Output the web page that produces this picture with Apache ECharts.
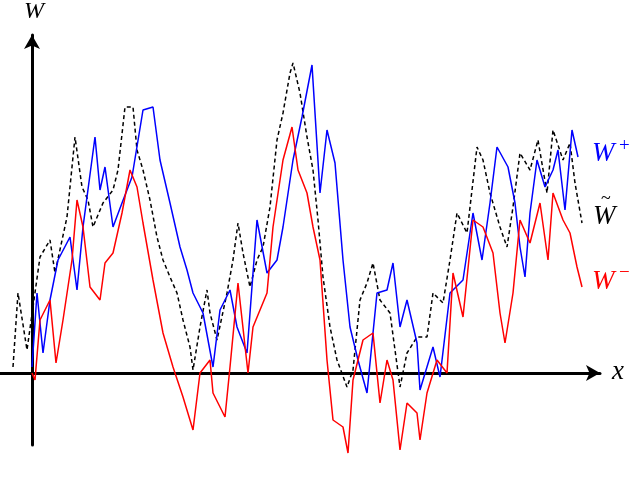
<!DOCTYPE html>
<html>
<head>
<meta charset="UTF-8">
<script src="https://cdn.jsdelivr.net/npm/echarts@6/dist/echarts.min.js"></script>
</head>
<body style="margin:0">
<div id="main" style="width:640px;height:488px"></div>
<script>
// values: horizontal position and height, in picture pixels
var wTildeX = [13,18,27,33,40,50,55,67,75,82,88,93,103,113,118,125,133,137,143,150,157,163,170,177,183,190,193,200,207,210,217,227,233,238,243,250,257,263,270,277,283,290,293,300,307,313,318,323,330,337,347,353,360,367,373,380,390,400,407,417,427,433,443,450,457,467,477,483,490,500,507,513,520,530,538,547,553,563,570,575,582];
var wTildeY = [367,293,350,307,257,240,273,217,137,187,200,227,203,190,170,107,107,150,170,200,237,260,277,293,320,347,370,327,290,313,340,293,260,223,253,287,260,247,207,140,113,73,63,93,137,170,220,277,327,360,387,370,300,283,263,300,313,387,353,337,337,293,303,260,213,233,147,160,193,227,247,207,153,170,140,193,130,160,143,183,223];

var wPlusX = [32,37,43,50,58,70,77,83,95,100,105,113,122,132,143,153,160,170,180,187,193,203,213,220,230,237,247,257,267,277,283,293,302,312,320,327,335,343,350,358,367,377,387,393,400,407,417,420,433,440,450,463,473,482,490,497,508,515,520,525,530,537,545,553,558,565,572,578];
var wPlusY = [367,293,353,300,260,237,290,227,137,190,167,227,203,177,110,107,160,203,247,270,293,313,367,310,290,327,353,220,273,260,227,160,117,65,193,130,163,260,327,360,393,293,290,263,327,300,343,390,347,377,293,280,213,260,203,147,167,203,247,277,213,160,187,170,150,210,130,157];

var wMinusX = [32,35,40,50,56,63,72,77,83,90,100,105,113,122,130,137,143,153,163,173,183,193,200,210,213,225,230,238,248,253,267,273,283,292,298,307,313,320,327,333,343,348,353,363,373,380,387,393,400,407,417,420,427,437,447,453,463,473,483,493,500,505,513,520,530,540,548,553,563,570,577,582];
var wMinusY = [373,380,320,300,363,320,260,200,227,287,300,263,253,213,170,187,223,280,333,367,397,430,373,360,393,417,367,283,373,327,293,227,160,127,170,193,227,260,360,420,427,453,380,340,333,403,360,380,450,403,413,440,393,360,373,273,317,220,227,253,313,343,293,220,243,203,260,193,220,233,267,287];

var originX = 32, originY = 373;

function toData(xs, ys) {
  return xs.map(function (x, i) { return [x - originX, originY - ys[i]]; });
}

var mathFont = 'italic 27px "Liberation Serif"';

var chart = echarts.init(document.getElementById('main'));
var option = {
  animation: false,
  grid: {left: 0, right: 40, top: 35, bottom: 43},
  xAxis: {
    type: 'value', min: -32, max: 568,
    axisLine: {onZero: true, symbol: ['none', 'arrow'], symbolSize: [12, 14], lineStyle: {color: '#000', width: 3}},
    axisTick: {show: false}, axisLabel: {show: false}, splitLine: {show: false}
  },
  yAxis: {
    type: 'value', min: -72, max: 338,
    axisLine: {onZero: true, symbol: ['none', 'arrow'], symbolSize: [12, 14], lineStyle: {color: '#000', width: 3}},
    axisTick: {show: false}, axisLabel: {show: false}, splitLine: {show: false}
  },
  series: [
    {type: 'line', data: toData(wTildeX, wTildeY), symbol: 'none', clip: false,
     lineStyle: {color: '#000', width: 1.5, type: [4, 3]}},
    {type: 'line', data: toData(wPlusX, wPlusY), symbol: 'none', clip: false,
     lineStyle: {color: '#0000ff', width: 1.5}},
    {type: 'line', data: toData(wMinusX, wMinusY), symbol: 'none', clip: false,
     lineStyle: {color: '#ff0000', width: 1.5}}
  ],
  graphic: [
    {type: 'text', left: 24, top: 0, style: {text: 'W', font: 'italic 24px "Liberation Serif"', fill: '#000'}},
    {type: 'text', left: 612, top: 358, style: {text: 'x', font: mathFont, fill: '#000'}},
    {type: 'text', left: 592, top: 140, style: {text: 'W', font: mathFont, fill: '#0000ff'}},
    {type: 'text', left: 619, top: 137, style: {text: '+', font: '19px "Liberation Serif"', fill: '#0000ff'}},
    {type: 'text', left: 593, top: 203, style: {text: 'W', font: mathFont, fill: '#000'}},
    {type: 'text', left: 601, top: 190, style: {text: '~', font: '18px "Liberation Serif"', fill: '#000'}},
    {type: 'text', left: 592, top: 268, style: {text: 'W', font: mathFont, fill: '#ff0000'}},
    {type: 'text', left: 619, top: 264, style: {text: '−', font: '19px "Liberation Serif"', fill: '#ff0000'}}
  ]
};
chart.setOption(option);
</script>
</body>
</html>
